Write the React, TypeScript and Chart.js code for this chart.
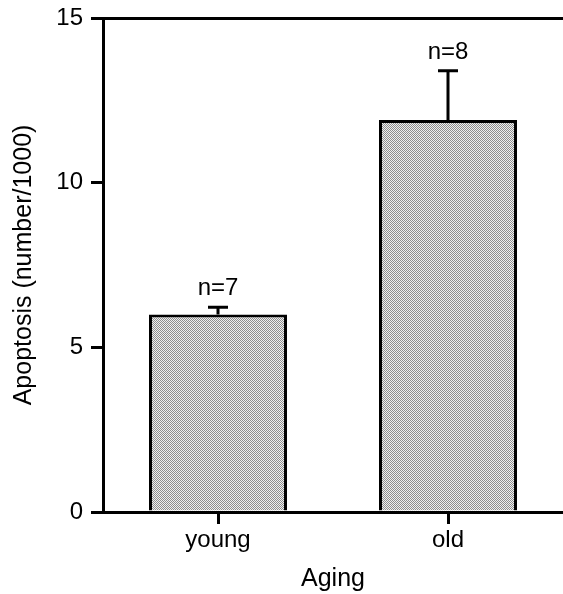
import React, { useEffect, useRef } from "react";
import { Chart, registerables } from "chart.js";

Chart.register(...registerables);

const categories = ["young", "old"];
const means = [6.0, 11.9];
const errors = [0.22, 1.5];
const nLabels = ["n=7", "n=8"];
const yTicks = [0, 5, 10, 15];
const yTitle = "Apoptosis (number/1000)";
const xTitle = "Aging";

const FONT = "'Liberation Sans', Arial, Helvetica, sans-serif";

function makePattern(): CanvasPattern | string {
  const c = document.createElement("canvas");
  c.width = 2;
  c.height = 2;
  const g = c.getContext("2d");
  if (!g) return "#c4c4c4";
  g.fillStyle = "#f0f0f0";
  g.fillRect(0, 0, 2, 2);
  g.fillStyle = "#8e8e8e";
  g.fillRect(0, 0, 1, 1);
  g.fillRect(1, 1, 1, 1);
  const p = g.createPattern(c, "repeat");
  return p || "#c4c4c4";
}

const errorBarPlugin = {
  id: "errorBars",
  afterDatasetsDraw(chart: any) {
    const ctx = chart.ctx;
    const meta = chart.getDatasetMeta(0);
    const yScale = chart.scales.y;
    ctx.save();
    meta.data.forEach((bar: any, i: number) => {
      const x = bar.x;
      const yTop = yScale.getPixelForValue(means[i]);
      const yErr = yScale.getPixelForValue(means[i] + errors[i]);
      ctx.strokeStyle = "#000";
      ctx.lineWidth = 3;
      ctx.beginPath();
      ctx.moveTo(x, yTop);
      ctx.lineTo(x, yErr);
      ctx.moveTo(x - 10, yErr);
      ctx.lineTo(x + 10, yErr);
      ctx.stroke();
      ctx.fillStyle = "#000";
      ctx.font = `24px ${FONT}`;
      ctx.textAlign = "center";
      ctx.textBaseline = "alphabetic";
      ctx.fillText(nLabels[i], x, yErr - 12);
    });
    ctx.restore();
  },
};

export default function App() {
  const ref = useRef<HTMLCanvasElement | null>(null);

  useEffect(() => {
    if (!ref.current) return;
    const pattern = makePattern();
    const chart = new Chart(ref.current, {
      type: "bar",
      data: {
        labels: categories,
        datasets: [
          {
            data: means,
            backgroundColor: pattern as any,
            borderColor: "#000",
            borderWidth: 3,
            borderSkipped: "bottom",
            categoryPercentage: 1,
            barPercentage: 0.6,
          },
        ],
      },
      options: {
        animation: false,
        responsive: false,
        maintainAspectRatio: false,
        layout: { padding: { top: 18, right: 0, left: 0, bottom: 0 } },
        plugins: { legend: { display: false }, tooltip: { enabled: false } },
        scales: {
          x: {
            type: "category",
            offset: true,
            grid: {
              display: true,
              offset: false,
              drawOnChartArea: false,
              drawTicks: true,
              tickLength: 12,
              tickWidth: 3,
              tickColor: "#000",
              color: "#000",
              lineWidth: 3,
            },
            border: { display: true, color: "#000", width: 3 },
            ticks: {
              color: "#000",
              font: { family: FONT, size: 24 },
              padding: 2,
            },
            title: {
              display: true,
              text: xTitle,
              color: "#000",
              font: { family: FONT, size: 25 },
              padding: { top: 0, bottom: 0 },
            },
            afterFit: (s: any) => {
              s.height = 82;
              s.paddingLeft = 0;
              s.paddingRight = 0;
            },
          },
          y: {
            type: "linear",
            min: 0,
            max: 15,
            afterBuildTicks: (s: any) => {
              s.ticks = yTicks.map((v) => ({ value: v }));
            },
            grid: {
              display: true,
              drawOnChartArea: true,
              drawTicks: true,
              tickLength: 12,
              tickWidth: 3,
              tickColor: "#000",
              color: (c: any) => (c.tick && c.tick.value === 15 ? "#000" : "rgba(0,0,0,0)"),
              lineWidth: 3,
            },
            border: { display: true, color: "#000", width: 3 },
            ticks: {
              color: "#000",
              font: { family: FONT, size: 24 },
              padding: 8,
            },
            title: {
              display: true,
              text: yTitle,
              color: "#000",
              font: { family: FONT, size: 25 },
              padding: { top: 9, bottom: 0 },
            },
            afterFit: (s: any) => {
              s.width = 103;
              s.paddingTop = 0;
              s.paddingBottom = 0;
            },
          },
        },
      },
      plugins: [errorBarPlugin],
    });
    return () => chart.destroy();
  }, []);

  return (
    <div style={{ position: "fixed", left: 0, top: 0, width: 563, height: 594, background: "#fff" }}>
      <canvas ref={ref} width={563} height={594} style={{ display: "block" }} />
    </div>
  );
}
